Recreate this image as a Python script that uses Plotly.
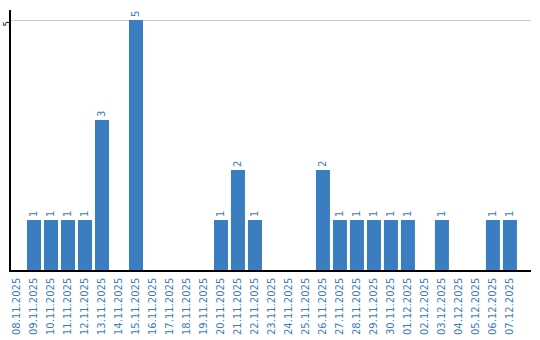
import plotly.graph_objects as go

dates = ["08.11.2025", "09.11.2025", "10.11.2025", "11.11.2025", "12.11.2025", "13.11.2025",
         "14.11.2025", "15.11.2025", "16.11.2025", "17.11.2025", "18.11.2025", "19.11.2025",
         "20.11.2025", "21.11.2025", "22.11.2025", "23.11.2025", "24.11.2025", "25.11.2025",
         "26.11.2025", "27.11.2025", "28.11.2025", "29.11.2025", "30.11.2025", "01.12.2025",
         "02.12.2025", "03.12.2025", "04.12.2025", "05.12.2025", "06.12.2025", "07.12.2025"]
counts = [0, 1, 1, 1, 1, 3, 0, 5, 0, 0, 0, 0, 1, 2, 1, 0, 0, 0, 2, 1, 1, 1, 1, 1, 0, 1, 0, 0, 1, 1]

blue = "#3b7dc1"
labels = [str(v) if v else "" for v in counts]

fig = go.Figure(go.Bar(
    x=dates, y=counts, marker=dict(color=blue, line=dict(width=0)),
    text=labels, textposition="outside", textangle=-90,
    textfont=dict(color=blue, size=10, family="DejaVu Sans"),
    cliponaxis=False,
))
fig.update_layout(
    width=540, height=340,
    margin=dict(l=11, r=9, t=10, b=70, autoexpand=False),
    paper_bgcolor="white", plot_bgcolor="white",
    bargap=0.176, showlegend=False,
    font=dict(family="DejaVu Sans", size=10),
    xaxis=dict(type="category", range=[-0.353, 30.24], tickangle=-90,
               tickfont=dict(color=blue, size=10, family="DejaVu Sans"),
               showline=True, linecolor="black", linewidth=1.5, ticks="", showgrid=False,
               automargin=False, ticklabelstandoff=2),
    yaxis=dict(range=[0, 5.2], tickvals=[5], ticktext=["5"], tickangle=-90,
               tickfont=dict(color="black", size=8, family="DejaVu Sans"), showline=True,
               linecolor="black", linewidth=1.5, showgrid=True, gridcolor="#cccccc",
               gridwidth=1, zeroline=False, ticks="", automargin=False,
               ticklabelstandoff=-4, ticklabelshift=5),
)
fig.write_html("out.html")
